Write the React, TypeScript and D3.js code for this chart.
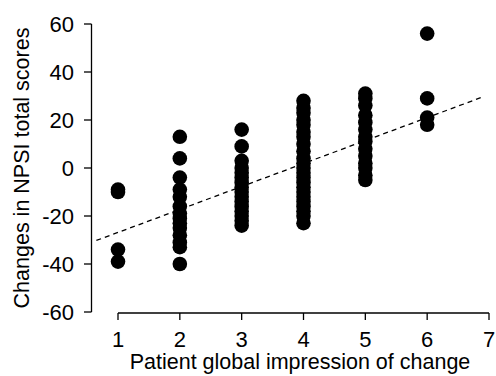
import React from "react";
import * as d3 from "d3";

const pgic1 = [-9, -10, -34, -39];
const pgic2 = [13, 4, -4, -9, -12, -16, -19, -21, -23, -25, -28, -31, -33, -40];
const pgic3 = [16, 9, 3, 0, -2, -4, -6, -8, -10, -12, -14, -16, -18, -20, -22, -24];
const pgic4 = [28, 25, 23, 20, 18, 15, 13, 10, 7, 4, 2, 0, -2, -4, -6, -8, -10, -12, -14, -16, -18, -20, -23];
const pgic5 = [31, 29, 26, 22, 19, 16, 13, 11, 8, 5, 2, 0, -3, -5];
const pgic6 = [56, 29, 21, 18];
const groups = [pgic1, pgic2, pgic3, pgic4, pgic5, pgic6];

const xTicks = [1, 2, 3, 4, 5, 6, 7];
const yTicks = [-60, -40, -20, 0, 20, 40, 60];
const fitX = [0.65, 6.92];
const fitY = [-30.2, 29.8];

const W = 496;
const H = 376;
const FONT = "'Liberation Sans', Arial, Helvetica, sans-serif";

export default function App() {
  const x = d3.scaleLinear().domain([1, 7]).range([118, 489]);
  const y = d3.scaleLinear().domain([-60, 60]).range([312, 24]);
  const points = groups.flatMap((vals, i) => vals.map((v) => ({ g: i + 1, v })));
  const fitLine = d3
    .line<number>()
    .x((_, i) => x(fitX[i]))
    .y((d) => y(d));
  const axisX = 91.5;
  const axisY = 313;
  return (
    <div style={{ position: "absolute", left: 0, top: 0 }}>
      <svg width={W} height={H} style={{ display: "block", background: "#fff" }}>
        {/* y axis */}
        <line x1={axisX} x2={axisX} y1={y(60)} y2={y(-60)} stroke="#000" strokeWidth={1.3} />
        {yTicks.map((t) => (
          <g key={t}>
            <line x1={axisX - 7.5} x2={axisX} y1={y(t)} y2={y(t)} stroke="#000" strokeWidth={1.3} />
            <text
              x={74}
              y={y(t)}
              dy="0.36em"
              textAnchor="end"
              fontFamily={FONT}
              fontSize={22}
            >
              {t}
            </text>
          </g>
        ))}
        {/* x axis */}
        <line x1={x(1)} x2={x(7)} y1={axisY} y2={axisY} stroke="#000" strokeWidth={1.3} />
        {xTicks.map((t) => (
          <g key={t}>
            <line x1={x(t)} x2={x(t)} y1={axisY} y2={axisY + 7} stroke="#000" strokeWidth={1.3} />
            <text x={x(t)} y={347} textAnchor="middle" fontFamily={FONT} fontSize={22}>
              {t}
            </text>
          </g>
        ))}
        <text x={300} y={369} textAnchor="middle" fontFamily={FONT} fontSize={21.5}>
          Patient global impression of change
        </text>
        <text
          transform={`translate(28.5, ${y(0)}) rotate(-90)`}
          textAnchor="middle"
          fontFamily={FONT}
          fontSize={21.5}
        >
          Changes in NPSI total scores
        </text>
        {/* fit line */}
        <path
          d={fitLine(fitY) || ""}
          fill="none"
          stroke="#000"
          strokeWidth={1.3}
          strokeDasharray="5,4"
        />
        {points.map((p, i) => (
          <circle key={i} cx={x(p.g)} cy={y(p.v)} r={7.3} fill="#000" />
        ))}
      </svg>
    </div>
  );
}
